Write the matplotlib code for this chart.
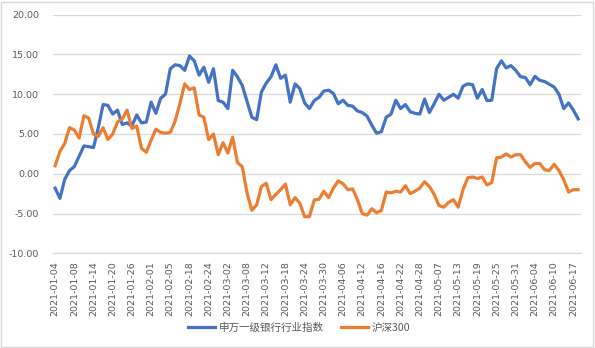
import numpy as np
import matplotlib
matplotlib.use("Agg")
import matplotlib.pyplot as plt
from matplotlib.patches import Rectangle

# category ticks: every 4th trading day from 2021-01-04
tick_labels = ['2021-01-04', '2021-01-08', '2021-01-14', '2021-01-20', '2021-01-26',
               '2021-02-01', '2021-02-05', '2021-02-18', '2021-02-24', '2021-03-02',
               '2021-03-08', '2021-03-12', '2021-03-18', '2021-03-24', '2021-03-30',
               '2021-04-06', '2021-04-12', '2021-04-16', '2021-04-22', '2021-04-28',
               '2021-05-07', '2021-05-13', '2021-05-19', '2021-05-25', '2021-05-31',
               '2021-06-04', '2021-06-10', '2021-06-17']
tick_step = 4

# 申万一级银行行业指数 (cumulative %)
bank = [-1.8, -3.1, -0.7, 0.4, 0.9, 2.2, 3.5, 3.4, 3.3, 5.8,
        8.7, 8.6, 7.5, 8.0, 6.2, 6.4, 6.0, 7.4, 6.4, 6.5,
        9.0, 7.6, 9.5, 10.0, 13.2, 13.7, 13.6, 13.0, 14.8, 14.2,
        12.4, 13.4, 11.5, 13.2, 9.2, 9.0, 8.2, 13.0, 12.2, 11.1,
        9.1, 7.1, 6.8, 10.3, 11.4, 12.2, 13.7, 12.0, 12.4, 9.0,
        11.3, 10.7, 8.9, 8.2, 9.2, 9.6, 10.4, 10.5, 10.1, 8.8,
        9.25, 8.6, 8.5, 7.9, 7.7, 7.25, 6.1, 5.1, 5.3, 7.1,
        7.5, 9.25, 8.2, 8.7, 7.8, 7.6, 7.5, 9.4, 7.7, 8.8,
        10.0, 9.25, 9.6, 10.0, 9.5, 11.0, 11.3, 11.2, 9.5, 10.6,
        9.2, 9.25, 13.2, 14.2, 13.3, 13.6, 13.0, 12.2, 12.1, 11.2,
        12.25, 11.75, 11.6, 11.25, 10.9, 10.0, 8.2, 8.9, 8.0, 6.9]

# 沪深300 (cumulative %)
hs300 = [1.0, 2.8, 3.8, 5.8, 5.5, 4.5, 7.3, 7.0, 5.0, 4.7,
         5.8, 4.3, 5.0, 6.5, 6.9, 8.0, 5.7, 6.0, 3.2, 2.7,
         4.2, 5.6, 5.2, 5.1, 5.2, 6.6, 8.8, 11.3, 10.6, 10.8,
         7.4, 7.1, 4.3, 5.0, 2.4, 3.9, 2.6, 4.6, 1.4, 0.9,
         -2.4, -4.6, -3.9, -1.6, -1.2, -3.25, -2.6, -2.0, -1.3, -3.9,
         -3.0, -3.7, -5.4, -5.4, -3.3, -3.2, -2.2, -3.0, -1.8, -0.9,
         -1.25, -2.0, -1.9, -3.25, -5.0, -5.2, -4.4, -4.9, -4.6, -2.3,
         -2.4, -2.2, -2.3, -1.5, -2.5, -2.2, -1.8, -1.0, -1.6, -2.6,
         -4.0, -4.2, -3.6, -3.25, -4.2, -2.0, -0.5, -0.4, -0.6, -0.4,
         -1.4, -1.1, 2.0, 2.1, 2.5, 2.1, 2.4, 2.4, 1.5, 0.8,
         1.3, 1.3, 0.5, 0.4, 1.2, 0.4, -0.75, -2.3, -2.0, -2.0]

names = ['申万一级银行行业指数', '沪深300']
colors = ['#4472C4', '#ED7D31']
text_color = '#595959'
grid_color = '#d9d9d9'

fig = plt.figure(figsize=(5.95, 3.48), dpi=100)
ax = fig.add_axes([0.0886, 0.2721, 0.9765 - 0.0886, 0.9578 - 0.2721])

x = np.arange(len(bank))
ax.plot(x, bank, color=colors[0], lw=2.3, label=names[0], solid_joinstyle='round')
ax.plot(x, hs300, color=colors[1], lw=2.3, label=names[1], solid_joinstyle='round')

ax.set_ylim(-10, 20)
ax.set_yticks(np.arange(-10, 21, 5))
ax.set_yticklabels([f'{v:.2f}' for v in np.arange(-10, 21, 5)])
ax.set_xlim(-0.5, 109.6)
ax.set_xticks(np.arange(0, len(tick_labels) * tick_step, tick_step))
ax.set_xticklabels(tick_labels, rotation=90)

ax.grid(axis='y', color=grid_color, lw=0.9)
ax.set_axisbelow(True)
for s in ['top', 'right', 'left']:
    ax.spines[s].set_visible(False)
ax.spines['bottom'].set_color(grid_color)
ax.spines['bottom'].set_linewidth(0.9)
ax.tick_params(length=0, labelsize=6.8, colors=text_color)
ax.tick_params(axis='y', pad=9.6)
ax.tick_params(axis='x', pad=5.8)

leg = fig.legend(loc='center', bbox_to_anchor=(0.503, 0.0575), ncol=2, frameon=False,
                 handlelength=2.55, handletextpad=0.35, columnspacing=1.67,
                 prop={'family': ['Noto Sans CJK SC', 'DejaVu Sans'], 'size': 7.6})
for t in leg.get_texts():
    t.set_color(text_color)

# chart area border
fig.patches.append(Rectangle((0.002, 0.003), 0.994, 0.992, transform=fig.transFigure,
                             fill=False, edgecolor=grid_color, lw=1.0))

fig.savefig('out.png', dpi=100)
